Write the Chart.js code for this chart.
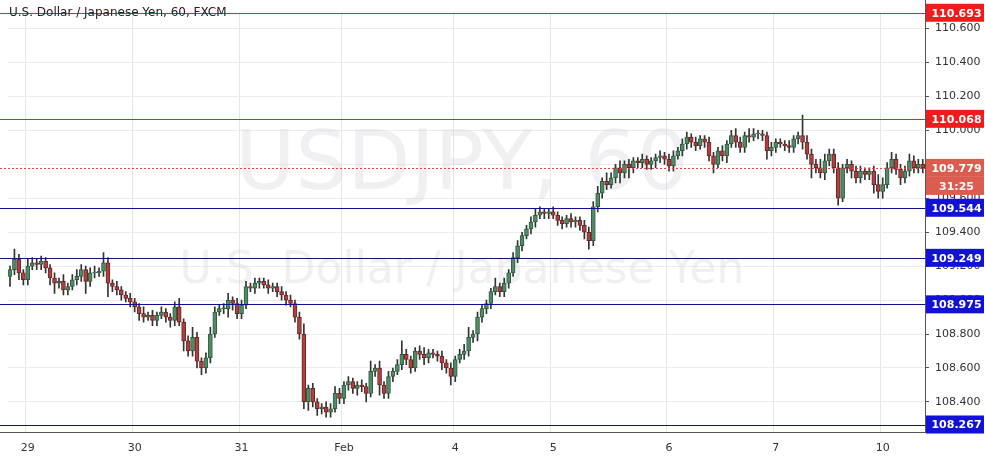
<!DOCTYPE html>
<html>
<head>
<meta charset="utf-8">
<script src="https://cdn.jsdelivr.net/npm/chart.js@4/dist/chart.umd.min.js"></script>
<style>
  body { margin: 0; background: #fff; }
  canvas { display: block; }
</style>
</head>
<body>
<canvas id="fx" width="985" height="465"></canvas>
<script>
// ---------------- DATA (hourly closes) ----------------
const closes = [
  109.18,109.24,109.16,109.12,109.20,109.22,109.21,109.23,109.19,109.13,109.10,109.11,109.06,109.08,109.12,109.14,109.18,109.11,109.16,109.16,109.17,109.22,109.10,109.08,
  109.06,109.03,109.01,108.99,108.96,108.92,108.90,108.91,108.88,108.91,108.93,108.90,108.88,108.96,108.87,108.76,108.70,108.78,108.64,108.60,108.66,108.80,108.93,108.95,
  108.95,109.00,108.98,108.92,108.97,109.08,109.07,109.10,109.11,109.09,109.07,109.08,109.05,109.03,109.00,108.98,108.90,108.80,108.40,108.48,108.40,108.36,108.37,108.34,
  108.36,108.45,108.42,108.50,108.52,108.48,108.50,108.49,108.45,108.58,108.60,108.50,108.45,108.55,108.58,108.62,108.68,108.65,108.60,108.70,108.68,108.66,108.69,108.68,
  108.67,108.63,108.60,108.55,108.65,108.68,108.70,108.78,108.80,108.90,108.95,108.98,109.05,109.08,109.05,109.10,109.16,109.25,109.32,109.38,109.42,109.46,109.50,109.52,
  109.51,109.52,109.50,109.47,109.45,109.48,109.46,109.47,109.44,109.40,109.35,109.55,109.63,109.70,109.68,109.72,109.78,109.75,109.80,109.78,109.82,109.81,109.83,109.80,
  109.82,109.84,109.85,109.83,109.79,109.85,109.88,109.92,109.96,109.93,109.91,109.95,109.93,109.85,109.80,109.88,109.85,109.92,109.97,109.93,109.90,109.97,109.96,109.98,
  109.98,109.97,109.88,109.90,109.93,109.92,109.91,109.90,109.95,109.97,109.93,109.86,109.80,109.78,109.75,109.82,109.86,109.78,109.60,109.78,109.80,109.76,109.72,109.76,
  109.74,109.76,109.68,109.64,109.68,109.78,109.83,109.77,109.72,109.76,109.82,109.78,109.80,109.779
];
// wick lengths above / below the body, in hundredths of a yen
const wickUp = [
  2,6,3,2,4,3,2,3,2,2,3,2,4,2,3,4,3,2,3,4,2,6,3,2,
  3,2,2,3,2,2,4,2,3,2,3,2,2,3,5,2,3,6,3,2,3,4,3,2,
  3,4,2,3,3,3,2,3,2,2,3,2,2,3,2,3,2,3,6,2,3,2,2,3,
  3,4,3,2,3,2,2,3,2,6,2,4,2,3,2,3,8,3,2,2,3,4,2,2,
  2,3,2,3,2,3,4,6,2,3,2,2,2,5,2,3,2,3,3,2,2,3,4,3,
  2,2,3,2,2,2,3,2,2,3,3,3,4,2,5,3,2,4,2,3,2,2,3,2,
  2,2,3,2,3,3,2,3,3,2,3,2,2,3,2,2,3,2,3,4,3,2,4,3,
  2,2,2,3,2,2,2,3,2,2,12,4,3,3,5,4,3,3,3,2,3,2,3,3,
  2,2,3,6,4,3,4,3,3,3,4,3,3,3
];
const wickDown = [
  6,3,4,3,3,2,3,3,3,4,6,3,3,3,2,3,3,7,3,3,2,3,8,3,
  3,3,2,3,3,4,3,2,3,3,2,3,4,3,2,6,3,3,4,4,3,3,2,2,
  3,5,4,3,3,2,2,3,3,2,3,2,3,3,3,2,3,3,4,5,3,4,3,3,
  3,2,3,3,3,3,4,3,5,2,3,6,3,3,3,2,3,3,3,2,3,4,3,2,
  3,4,3,5,3,2,3,3,3,4,3,3,3,2,3,3,3,2,3,3,2,3,3,2,
  3,3,2,3,3,2,3,3,3,4,5,3,3,3,3,2,3,6,3,6,3,3,3,3,
  3,4,3,3,3,3,2,3,3,3,3,2,3,3,5,2,3,4,2,3,3,3,3,2,
  3,3,5,3,3,2,3,3,3,3,4,3,8,3,3,4,3,3,4,2,3,4,3,3,
  3,3,5,4,4,2,3,3,4,3,3,3,3,3
];
const firstOpen = 109.14;
// day labels: candle index -> text
const dayTicks = { 4: "29", 28: "30", 52: "31", 75: "Feb", 100: "4", 122: "5", 148: "6", 172: "7", 196: "10" };
const yTicks = [108.4, 108.6, 108.8, 109.0, 109.2, 109.4, 109.6, 109.8, 110.0, 110.2, 110.4, 110.6];
const redLevels = [110.693, 110.068];
const blueLevels = [109.544, 109.249, 108.975, 108.267];
const lastPrice = 109.779;
const countdown = "31:25";

// ---------------- BUILD CANDLES ----------------
const labels = closes.map((c, i) => i);
const opens = closes.map((c, i) => i === 0 ? firstOpen : closes[i - 1]);
const bodies = closes.map((c, i) => [opens[i], c === opens[i] ? c + 0.004 : c]);
const wicks = closes.map((c, i) => [
  Math.min(opens[i], c) - wickDown[i] / 100,
  Math.max(opens[i], c) + wickUp[i] / 100
]);
const isUp = closes.map((c, i) => c >= opens[i]);
const upFill = "#4f8c66", downFill = "#ad4141";

const levelsPlugin = {
  id: "levels",
  beforeDatasetsDraw(chart) {
    const { ctx, chartArea: a } = chart;
    ctx.save();
    // watermark
    ctx.fillStyle = "rgba(205,205,212,0.3)";
    ctx.textAlign = "center";
    ctx.textBaseline = "middle";
    ctx.font = "82px 'DejaVu Sans', sans-serif";
    ctx.fillText("USDJPY, 60", 462, 168);
    ctx.font = "44px 'DejaVu Sans', sans-serif";
    ctx.fillText("U.S. Dollar / Japanese Yen", 462, 272);
    ctx.restore();
  },
  afterDraw(chart) {
    const { ctx, chartArea: a, scales: { y } } = chart;
    ctx.save();
    // horizontal levels as 1px rects
    const hline = (v, col) => {
      ctx.fillStyle = col;
      ctx.fillRect(0, Math.round(y.getPixelForValue(v)), a.right, 1);
    };
    redLevels.forEach(v => hline(v, "#ff1a1a"));
    blueLevels.forEach(v => hline(v, "#10108a"));
    const lp = Math.round(y.getPixelForValue(lastPrice));
    ctx.fillStyle = "#e0463c";
    for (let x = 0; x < a.right; x += 4) ctx.fillRect(x, lp, 2, 1);

    // frame
    ctx.fillStyle = "#555";
    ctx.fillRect(Math.round(a.right), 0, 1, Math.round(a.bottom) + 1);
    ctx.fillRect(0, Math.round(a.bottom), Math.round(a.right), 1);

    // price boxes on the axis
    ctx.font = "bold 11px 'DejaVu Sans', sans-serif";
    ctx.textAlign = "center";
    ctx.textBaseline = "middle";
    const box = (v, bg, txt, dy) => {
      const py = y.getPixelForValue(v) + (dy || 0);
      ctx.fillStyle = bg;
      ctx.fillRect(a.right + 1, py - 9, 984 - a.right - 1, 18);
      ctx.fillStyle = "#fff";
      ctx.fillText(txt, a.right + 2 + (984 - a.right) / 2, py + 1);
    };
    redLevels.forEach(v => box(v, "#f21b1b", v.toFixed(3)));
    blueLevels.forEach(v => box(v, "#1212d6", v.toFixed(3)));
    box(lastPrice, "#dc5d50", lastPrice.toFixed(3));
    box(lastPrice, "#dc5d50", countdown, 18);

    ctx.fillStyle = "#222";
    ctx.font = "12px 'DejaVu Sans', sans-serif";
    ctx.textAlign = "left";
    ctx.textBaseline = "top";
    ctx.fillText("U.S. Dollar / Japanese Yen, 60, FXCM", 9, 7);
    ctx.restore();
  }
};

new Chart(document.getElementById("fx"), {
  type: "bar",
  data: {
    labels: labels,
    datasets: [
      {
        data: wicks,
        backgroundColor: "#333",
        barThickness: 1,
        grouped: false,
        order: 2
      },
      {
        data: bodies,
        backgroundColor: isUp.map(u => u ? upFill : downFill),
        borderColor: isUp.map(u => u ? "#2f5a40" : "#6e2424"),
        borderWidth: 1,
        borderSkipped: false,
        barThickness: 4,
        grouped: false,
        order: 1
      }
    ]
  },
  options: {
    responsive: false,
    devicePixelRatio: 1,
    animation: false,
    layout: { padding: { left: -10, right: 0, top: 0, bottom: 0 } },
    plugins: { legend: { display: false }, tooltip: { enabled: false } },
    scales: {
      x: {
        offset: true,
        grid: {
          color: ctx => (dayTicks[ctx.index] ? "#e6e6e6" : "rgba(0,0,0,0)"),
          drawTicks: false
        },
        border: { display: false },
        ticks: {
          autoSkip: false,
          maxRotation: 0,
          padding: 10,
          color: "#333",
          font: { size: 11, family: "'DejaVu Sans', sans-serif" },
          callback: (v, i) => dayTicks[i] || ""
        }
      },
      y: {
        position: "right",
        min: 108.224,
        max: 110.694,
        afterFit: s => { s.width = 60; },
        afterBuildTicks: s => { s.ticks = yTicks.map(v => ({ value: v })); },
        grid: { color: "#ececec", drawTicks: true, tickLength: 4, tickColor: "#555" },
        border: { display: false },
        ticks: {
          padding: 6,
          color: "#333",
          font: { size: 11, family: "'DejaVu Sans', sans-serif" },
          callback: v => v.toFixed(3)
        }
      }
    }
  },
  plugins: [levelsPlugin]
});
</script>
</body>
</html>
